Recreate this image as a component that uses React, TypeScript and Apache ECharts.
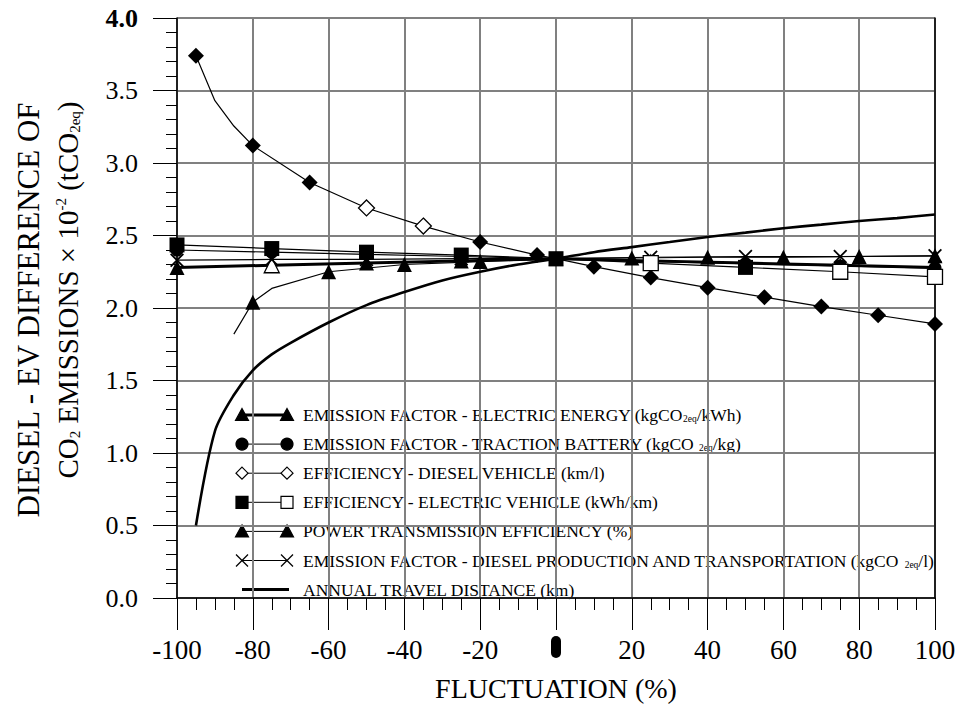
import React, { useEffect, useRef } from 'react';
import * as echarts from 'echarts';

const SERIF = 'Liberation Serif';

// ---- data (fluctuation %, difference of CO2 emissions x10^-2 tCO2eq) ----
const electricEnergyX = [-100, -75, -50, -25, 0, 25, 50, 75, 100];
const electricEnergyY = [2.28, 2.295, 2.31, 2.325, 2.34, 2.325, 2.31, 2.295, 2.28];

const tractionBatteryX = [-100, -75, -50, -25, 0, 25, 50, 75, 100];
const tractionBatteryY = [2.4, 2.385, 2.37, 2.355, 2.34, 2.32, 2.305, 2.29, 2.275];

const dieselVehicleX = [-95, -90, -85, -80, -65, -50, -35, -20, -5, 0, 10, 25, 40, 55, 70, 85, 100];
const dieselVehicleY = [3.74, 3.43, 3.255, 3.12, 2.865, 2.69, 2.565, 2.455, 2.365, 2.34, 2.285, 2.21, 2.14, 2.075, 2.01, 1.95, 1.89];

const electricVehicleX = [-100, -75, -50, -25, 0, 25, 50, 75, 100];
const electricVehicleY = [2.435, 2.41, 2.385, 2.365, 2.34, 2.31, 2.28, 2.25, 2.215];

const transmissionX = [-85, -80, -75, -60, -40, -20, 0, 20, 40, 60, 80, 100];
const transmissionY = [1.82, 2.04, 2.135, 2.25, 2.3, 2.32, 2.34, 2.345, 2.35, 2.35, 2.355, 2.36];

const dieselProductionX = [-100, -75, -50, -25, 0, 25, 50, 75, 100];
const dieselProductionY = [2.33, 2.335, 2.335, 2.34, 2.34, 2.35, 2.355, 2.355, 2.36];

const travelDistanceX = [-95, -90, -85, -80, -75, -70, -60, -50, -40, -30, -20, -10, 0, 10, 20, 30, 40, 50, 60, 70, 80, 90, 100];
const travelDistanceY = [0.5, 1.15, 1.4, 1.57, 1.68, 1.76, 1.9, 2.02, 2.11, 2.19, 2.25, 2.3, 2.34, 2.385, 2.42, 2.455, 2.49, 2.52, 2.55, 2.575, 2.6, 2.62, 2.645];

const legendLabels = [
  'EMISSION FACTOR - ELECTRIC ENERGY (kgCO{s|2eq}/kWh)',
  'EMISSION FACTOR - TRACTION BATTERY (kgCO {s|2eq}/kg)',
  'EFFICIENCY - DIESEL VEHICLE (km/l)',
  'EFFICIENCY - ELECTRIC VEHICLE (kWh/km)',
  'POWER TRANSMISSION EFFICIENCY (%)',
  'EMISSION FACTOR - DIESEL PRODUCTION AND TRANSPORTATION (kgCO {s|2eq}/l)',
  'ANNUAL TRAVEL DISTANCE (km)',
];

const xAxisName = 'FLUCTUATION (%)';
const yTitle1 = 'DIESEL - EV DIFFERENCE OF';
const yTitle2 = '{n|CO}{s|2}{n| EMISSIONS × 10}{p|-2}{n| (tCO}{s|2eq}{n|)}';

// ---- helpers ----
const X_PATH = 'path://M0,9.1L0.9,10L10,0.9L9.1,0ZM0,0.9L9.1,10L10,9.1L0.9,0Z';

const openStyle = { color: '#fff', borderColor: '#000', borderWidth: 1.3 };

function buildData(xs: number[], ys: number[], noMark: number[] = [], open: number[] = []) {
  return xs.map((x, i) => {
    const item: any = { value: [x, ys[i]] };
    if (noMark.includes(x)) item.symbol = 'none';
    if (open.includes(x)) item.itemStyle = openStyle;
    return item;
  });
}

function legendMarker(kind: string, cx: number, cy: number, filled: boolean): any[] {
  const fill = filled ? '#000' : '#fff';
  const stroke = { stroke: '#000', lineWidth: 1.2 };
  switch (kind) {
    case 'triangle':
      return [{ type: 'polygon', shape: { points: [[cx, cy - 6.5], [cx + 6.5, cy + 5.5], [cx - 6.5, cy + 5.5]] }, style: { fill, ...stroke } }];
    case 'circle':
      return [{ type: 'circle', shape: { cx, cy, r: 6 }, style: { fill, ...stroke } }];
    case 'diamond':
      return [{ type: 'polygon', shape: { points: [[cx, cy - 6], [cx + 6, cy], [cx, cy + 6], [cx - 6, cy]] }, style: { fill, ...stroke } }];
    case 'square':
      return [{ type: 'rect', shape: { x: cx - 6, y: cy - 6, width: 12, height: 12 }, style: { fill, ...stroke } }];
    case 'x':
      return [
        { type: 'line', shape: { x1: cx - 6, y1: cy - 6, x2: cx + 6, y2: cy + 6 }, style: { stroke: '#000', lineWidth: 1.3 } },
        { type: 'line', shape: { x1: cx - 6, y1: cy + 6, x2: cx + 6, y2: cy - 6 }, style: { stroke: '#000', lineWidth: 1.3 } },
      ];
    default:
      return [];
  }
}

function buildLegend(): any[] {
  const kinds = [
    ['triangle', true, true, 3],
    ['circle', true, true, 1],
    ['diamond', false, false, 1],
    ['square', true, false, 1],
    ['triangle', true, true, 1],
    ['x', true, true, 1],
    ['none', true, true, 3],
  ] as const;
  const els: any[] = [];
  const x0 = 242;
  const x1 = 287;
  kinds.forEach((k, i) => {
    const y = 415 + 29.1 * i;
    const [kind, leftFilled, rightFilled, lw] = k;
    if (kind === 'none') {
      els.push({ type: 'line', shape: { x1: x0, y1: y, x2: x1 + 2, y2: y }, style: { stroke: '#000', lineWidth: lw } });
    } else {
      els.push({ type: 'line', shape: { x1: x0, y1: y, x2: x1, y2: y }, style: { stroke: '#000', lineWidth: lw } });
      els.push(...legendMarker(kind, x0, y, leftFilled));
      els.push(...legendMarker(kind, x1, y, rightFilled));
    }
    els.push({
      type: 'text',
      x: 303,
      y,
      style: {
        text: legendLabels[i],
        fontFamily: SERIF,
        fontSize: 17.5,
        fill: '#000',
        verticalAlign: 'middle',
        align: 'left',
        rich: {
          s: { fontFamily: SERIF, fontSize: 9.5, verticalAlign: 'bottom', fill: '#000' },
        },
      },
    });
  });
  return els;
}

function buildOption(): any {
  const thin = { color: '#000', width: 1.2 };
  return {
    animation: false,
    backgroundColor: '#fff',
    textStyle: { fontFamily: SERIF },
    grid: { left: 177, top: 18, right: 25, bottom: 117, containLabel: false },
    xAxis: {
      type: 'value',
      min: -100,
      max: 100,
      interval: 20,
      name: xAxisName,
      nameLocation: 'middle',
      nameGap: 76,
      nameTextStyle: { fontFamily: SERIF, fontSize: 28, color: '#000' },
      axisLine: { show: true, onZero: false, lineStyle: { color: '#000', width: 1.5 } },
      axisTick: { show: true, inside: false, length: 32, lineStyle: { color: '#000', width: 1 } },
      minorTick: { show: true, splitNumber: 4, length: 12, lineStyle: { color: '#000', width: 1 } },
      splitLine: { show: true, lineStyle: { color: '#808080', width: 2 } },
      axisLabel: {
        margin: 38,
        fontFamily: SERIF,
        fontSize: 27,
        color: '#000',
        formatter: (v: number) => (v === 0 ? '{z|0}' : String(v)),
        rich: {
          z: { width: 10, height: 22, borderRadius: 5, backgroundColor: '#000', color: '#000', fontSize: 12, fontFamily: SERIF, align: 'center' },
        },
      },
    },
    yAxis: [
      {
        type: 'value',
        min: 0,
        max: 4,
        interval: 0.5,
        axisLine: { show: true, onZero: false, lineStyle: { color: '#000', width: 1.5 } },
        axisTick: { show: true, inside: false, length: 24, lineStyle: { color: '#000', width: 1 } },
        minorTick: { show: true, splitNumber: 5, length: 11, lineStyle: { color: '#000', width: 1 } },
        splitLine: { show: true, lineStyle: { color: '#808080', width: 2 } },
        axisLabel: {
          margin: 39,
          fontFamily: SERIF,
          fontSize: 26,
          color: '#000',
          formatter: (v: number) => (v === 4 ? '{b|4.0}' : v.toFixed(1)),
          rich: { b: { fontFamily: SERIF, fontSize: 26, fontWeight: 'bold', color: '#000' } },
        },
      },
      {
        type: 'value',
        position: 'right',
        min: 0,
        max: 4,
        interval: 0.5,
        axisLine: { show: true, onZero: false, lineStyle: { color: '#000', width: 1.5 } },
        axisTick: { show: false },
        axisLabel: { show: false },
        splitLine: { show: false },
      },
    ],
    series: [
      {
        name: 'ANNUAL TRAVEL DISTANCE (km)',
        type: 'line',
        data: buildData(travelDistanceX, travelDistanceY),
        showSymbol: false,
        symbol: 'none',
        smooth: 0.3,
        lineStyle: { color: '#000', width: 2.6 },
        z: 3,
      },
      {
        name: 'POWER TRANSMISSION EFFICIENCY (%)',
        type: 'line',
        data: buildData(transmissionX, transmissionY, [-85, -75, 0]),
        symbol: 'triangle',
        symbolSize: 15,
        itemStyle: { color: '#000' },
        lineStyle: thin,
        z: 4,
      },
      {
        name: 'EMISSION FACTOR - ELECTRIC ENERGY',
        type: 'line',
        data: buildData(electricEnergyX, electricEnergyY, [], [-75]),
        symbol: 'triangle',
        symbolSize: 15,
        itemStyle: { color: '#000' },
        lineStyle: { color: '#000', width: 3 },
        z: 5,
      },
      {
        name: 'EMISSION FACTOR - DIESEL PRODUCTION AND TRANSPORTATION',
        type: 'line',
        data: buildData(dieselProductionX, dieselProductionY),
        symbol: X_PATH,
        symbolSize: 14,
        itemStyle: { color: '#000' },
        lineStyle: thin,
        z: 6,
      },
      {
        name: 'EMISSION FACTOR - TRACTION BATTERY',
        type: 'line',
        data: buildData(tractionBatteryX, tractionBatteryY),
        symbol: 'circle',
        symbolSize: 13,
        itemStyle: { color: '#000' },
        lineStyle: thin,
        z: 7,
      },
      {
        name: 'EFFICIENCY - DIESEL VEHICLE',
        type: 'line',
        data: buildData(dieselVehicleX, dieselVehicleY, [-90, -85, 0], [-50, -35]),
        symbol: 'diamond',
        symbolSize: 16,
        itemStyle: { color: '#000' },
        lineStyle: thin,
        z: 8,
      },
      {
        name: 'EFFICIENCY - ELECTRIC VEHICLE',
        type: 'line',
        data: buildData(electricVehicleX, electricVehicleY, [], [25, 75, 100]),
        symbol: 'rect',
        symbolSize: 15,
        itemStyle: { color: '#000' },
        lineStyle: thin,
        z: 9,
      },
    ],
    graphic: [
      {
        type: 'text',
        x: 28,
        y: 310,
        rotation: Math.PI / 2,
        style: { text: yTitle1, fontFamily: SERIF, fontSize: 31, fill: '#000', align: 'center', verticalAlign: 'middle' },
      },
      {
        type: 'text',
        x: 68,
        y: 290,
        rotation: Math.PI / 2,
        style: {
          text: yTitle2,
          fontFamily: SERIF,
          fontSize: 29,
          fill: '#000',
          align: 'center',
          verticalAlign: 'middle',
          rich: {
            n: { fontFamily: SERIF, fontSize: 29, fill: '#000' },
            s: { fontFamily: SERIF, fontSize: 15, verticalAlign: 'bottom', fill: '#000' },
            p: { fontFamily: SERIF, fontSize: 15, verticalAlign: 'top', fill: '#000' },
          },
        },
      },
      ...buildLegend(),
    ],
  };
}

export default function App() {
  const ref = useRef<HTMLDivElement>(null);
  useEffect(() => {
    if (!ref.current) return;
    const chart = echarts.init(ref.current, null, { renderer: 'svg' });
    chart.setOption(buildOption());
    return () => chart.dispose();
  }, []);
  return (
    <div
      ref={ref}
      style={{ position: 'fixed', left: 0, top: 0, width: 960, height: 715, background: '#fff' }}
    />
  );
}
